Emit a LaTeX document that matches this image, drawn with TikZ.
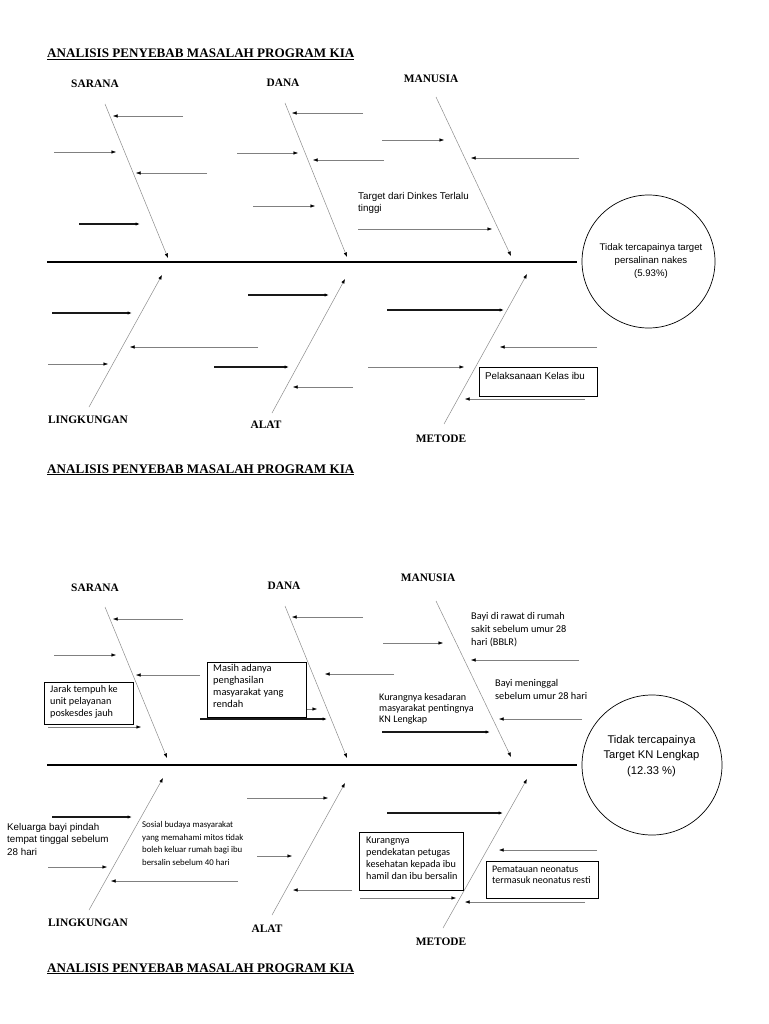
\documentclass[tikz,border=0pt]{standalone}
\usepackage{fontspec}
\setmainfont{Liberation Serif}
\newfontfamily\arialf{Liberation Sans}
\newfontfamily\calif{Carlito}
\usetikzlibrary{arrows.meta}
\begin{document}
\begin{tikzpicture}[x=1pt,y=-1pt,
 tn/.style={draw=black!50, line width=0.45pt, -{Latex[length=4.5pt,width=3.4pt,color=black]}},
 tk/.style={draw=black!90, line width=1.1pt, -{Latex[length=4.5pt,width=3.4pt,color=black]}},
 bone/.style={draw=black!45, line width=0.5pt, -{Latex[length=4.5pt,width=3.4pt,color=black]}},
 spine/.style={draw=black, line width=2.3pt},
 ttl/.style={font=\fontsize{13.1}{15}\selectfont\bfseries, anchor=base west, inner sep=0},
 cat/.style={font=\fontsize{11.4}{13}\selectfont\bfseries, anchor=base, inner sep=0},
 ar/.style={font=\fontsize{9.8}{13}\selectfont\arialf, anchor=base west, inner sep=0, align=left},
 ca/.style={font=\fontsize{10.2}{12}\selectfont\calif, anchor=base west, inner sep=0, align=left},
 boxst/.style={draw=black, line width=0.7pt, fill=white, inner sep=0, anchor=north west},
 goal/.style={draw=black, line width=0.7pt, circle, inner sep=0},
]
\fill[white] (0,0) rectangle (768,1024);
\useasboundingbox (0,0) rectangle (768,1024);

% ================= TOP DIAGRAM =================
\node[ttl] (title1) at (47,58) {\underline{ANALISIS PENYEBAB MASALAH PROGRAM KIA}};
\node[cat] (sar1) at (95,88) {SARANA};
\node[cat] (dan1) at (283,87) {DANA};
\node[cat] (man1) at (431,83) {MANUSIA};
\node[cat] (lin1) at (88,423) {LINGKUNGAN};
\node[cat] (ala1) at (266,428) {ALAT};
\node[cat] (met1) at (441,442) {METODE};

\node[goal, minimum size=133] (g1) at (648.5,261.5) {};
\node[ar, anchor=base, align=center, font=\fontsize{9.6}{12.5}\selectfont\arialf] (g1t) at (651,276) {Tidak tercapainya target\\persalinan nakes\\(5.93\%)};
\coordinate (sp1a) at (47,262);
\coordinate (sp1b) at (577,262);
\draw[spine] (sp1a) -- (sp1b);

\draw[bone] (105,104) -- (168,258);
\draw[bone] (285,103) -- (347,257);
\draw[bone] (436,97) -- (511,256);
\draw[bone] (89,407) -- (162,275);
\draw[bone] (272,413) -- (345,279);
\draw[bone] (444,424) -- (527,274);

\draw[tn] (183,116) -- (113,116);
\draw[tn] (54,152) -- (116,152);
\draw[tn] (207,173) -- (136,173);
\draw[tk] (79,224) -- (140,224);
\draw[tn] (363,113) -- (292,113);
\draw[tn] (237,153) -- (298,153);
\draw[tn] (384,160) -- (313,160);
\draw[tn] (253,206) -- (315,206);
\draw[tn] (382,140) -- (444,140);
\draw[tn] (579,158) -- (471,158);
\draw[tn] (358,229) -- (492,229);
\node[ar] (tx1) at (358,212) {Target dari Dinkes Terlalu\\tinggi};

\draw[tk] (52,313) -- (132,313);
\draw[tn] (48,364) -- (108,364);
\draw[tn] (258,347) -- (130,347);
\draw[tk] (248,295) -- (329,295);
\draw[tk] (214,367) -- (289,367);
\draw[tn] (353,387) -- (293,387);
\draw[tk] (387,310) -- (504,310);
\draw[tn] (597,347) -- (500,347);
\draw[tn] (368,367) -- (464,367);
\draw[tn] (585,399) -- (465,399);
\node[boxst, minimum width=118, minimum height=29] (bx1) at (479,367) {};
\node[ar] (bx1t) at (485,379) {Pelaksanaan Kelas ibu};

% ================= MIDDLE TITLE =================
\node[ttl] (title2) at (47,473) {\underline{ANALISIS PENYEBAB MASALAH PROGRAM KIA}};

% ================= BOTTOM DIAGRAM =================
\node[cat] (sar2) at (95,591) {SARANA};
\node[cat] (dan2) at (284,589) {DANA};
\node[cat] (man2) at (428,581) {MANUSIA};
\node[cat] (lin2) at (88,926) {LINGKUNGAN};
\node[cat] (ala2) at (267,932) {ALAT};
\node[cat] (met2) at (441,945) {METODE};

\node[goal, minimum size=140] (g2) at (652,765) {};
\node[ar, anchor=base, align=center, font=\fontsize{11.2}{15.5}\selectfont\arialf] (g2t) at (651.5,774) {Tidak tercapainya\\Target KN Lengkap\\(12.33 \%)};
\coordinate (sp2a) at (47,765);
\coordinate (sp2b) at (577,765);
\draw[spine] (sp2a) -- (sp2b);

\draw[bone] (105,607) -- (167,758);
\draw[bone] (285,606) -- (347,758);
\draw[bone] (436,601) -- (511,757);
\draw[bone] (89,910) -- (163,778);
\draw[bone] (272,915) -- (345,783);
\draw[bone] (443,928) -- (527,779);

\draw[tn] (183,619) -- (113,619);
\draw[tn] (54,655) -- (116,655);
\draw[tn] (200,675) -- (136,675);
\draw[tn] (48,727) -- (141,727);
\node[boxst, minimum width=89, minimum height=42] (bx2) at (44,682) {};
\node[ca] (bx2t) at (50,716) {Jarak tempuh ke\\unit pelayanan\\poskesdes jauh};

\draw[tn] (363,617) -- (292,617);
\draw[tn] (253,709) -- (317,709);
\node[boxst, minimum width=99, minimum height=55] (bx3) at (207,662) {};
\node[ca, font=\fontsize{10.4}{11.7}\selectfont\calif] (bx3t) at (213,707) {Masih adanya\\penghasilan\\masyarakat yang\\rendah};
\draw[tk] (200,719) -- (327,719);
\draw[tn] (394,674) -- (325,674);

\draw[tn] (383,643) -- (443,643);
\draw[tn] (579,660) -- (471,660);
\draw[tn] (582,719) -- (499,719);
\draw[tk] (382,732) -- (490,732);
\node[ca, font=\fontsize{10.1}{11}\selectfont\calif] (tx2) at (379,722) {Kurangnya kesadaran\\masyarakat pentingnya\\KN Lengkap};
\node[ca, font=\fontsize{10.3}{12.7}\selectfont\calif] (tx3) at (471,645) {Bayi di rawat di rumah\\sakit sebelum umur 28\\hari (BBLR)};
\node[ca, font=\fontsize{10.3}{13}\selectfont\calif] (tx4) at (495,699) {Bayi meninggal\\sebelum umur 28 hari};

\draw[tk] (52,817) -- (132,817);
\draw[tn] (48,867) -- (107,867);
\draw[tn] (238,881) -- (111,881);
\node[ar, font=\fontsize{9.8}{12.5}\selectfont\arialf] (tx5) at (7,855) {Keluarga bayi pindah\\tempat tinggal sebelum\\28 hari};
\node[ca, font=\fontsize{8.8}{12.4}\selectfont\calif] (tx6) at (142,865) {Sosial budaya masyarakat\\yang memahami mitos tidak\\boleh keluar rumah bagi ibu\\bersalin sebelum 40 hari};

\draw[tn] (247,798) -- (328,798);
\draw[tn] (257,856) -- (292,856);
\draw[tn] (352,890) -- (293,890);
\draw[tk] (387,813) -- (503,813);
\draw[tn] (597,850) -- (499,850);
\draw[tn] (360,898) -- (456,898);
\draw[tn] (585,902) -- (465,902);
\node[boxst, minimum width=104, minimum height=58] (bx4) at (359,832) {};
\node[ca] (bx4t) at (366,879) {Kurangnya\\pendekatan petugas\\kesehatan kepada ibu\\hamil dan ibu bersalin};
\node[boxst, minimum width=112, minimum height=37] (bx5) at (486,861) {};
\node[ca, font=\fontsize{10}{11}\selectfont\calif] (bx5t) at (492,883) {Pematauan neonatus\\termasuk neonatus resti};

\node[ttl] (title3) at (47,972) {\underline{ANALISIS PENYEBAB MASALAH PROGRAM KIA}};
\end{tikzpicture}
\end{document}
